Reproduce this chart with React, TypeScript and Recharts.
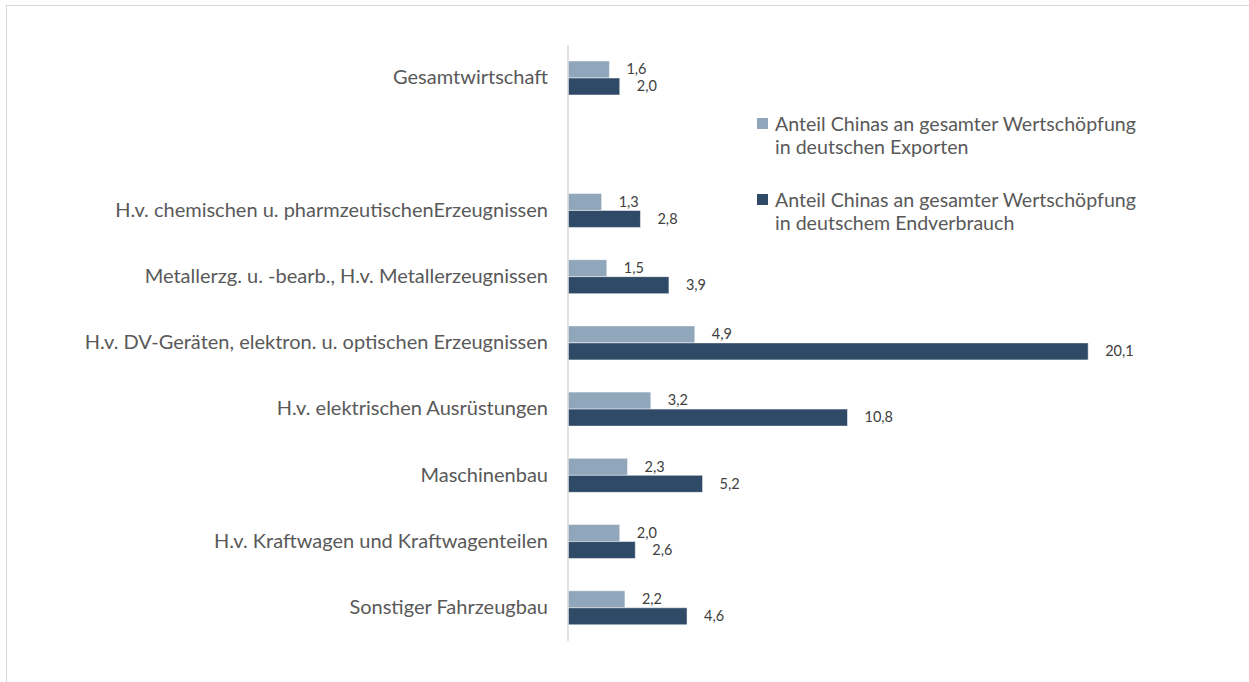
import React from "react";
import { BarChart, Bar, XAxis, YAxis, LabelList } from "recharts";

const categories = [
  "Gesamtwirtschaft",
  "",
  "H.v. chemischen u. pharmzeutischenErzeugnissen",
  "Metallerzg. u. -bearb., H.v. Metallerzeugnissen",
  "H.v. DV-Geräten, elektron. u. optischen Erzeugnissen",
  "H.v. elektrischen Ausrüstungen",
  "Maschinenbau",
  "H.v. Kraftwagen und Kraftwagenteilen",
  "Sonstiger Fahrzeugbau",
];
const exportShare: (number | null)[] = [1.6, null, 1.3, 1.5, 4.9, 3.2, 2.3, 2.0, 2.2];
const consumptionShare: (number | null)[] = [2.0, null, 2.8, 3.9, 20.1, 10.8, 5.2, 2.6, 4.6];
const seriesNames = [
  ["Anteil Chinas an gesamter Wertschöpfung", "in deutschen Exporten"],
  ["Anteil Chinas an gesamter Wertschöpfung", "in deutschem Endverbrauch"],
];

const data = categories.map((name, i) => ({
  name,
  exp: exportShare[i],
  cons: consumptionShare[i],
}));

const LIGHT = "#8FA6BB";
const DARK = "#2E4A66";
const TEXT = "#595959";
const FONT = "Lato, 'Open Sans', sans-serif";

const fmt = (v: number) => v.toFixed(1).replace(".", ",");

const ValueLabel = (props: any) => {
  const { x, y, width, height, value } = props;
  if (value === null || value === undefined) return null;
  return (
    <text
      x={Number(x) + Number(width) + 17}
      y={Number(y) + Number(height) / 2 + 1}
      fill="#404040"
      fontSize={14.5}
      fontFamily={FONT}
      dominantBaseline="middle"
    >
      {fmt(Number(value))}
    </text>
  );
};

const CatTick = (props: any) => {
  const { x, y, payload } = props;
  return (
    <text
      x={Number(x) - 12}
      y={Number(y) + 1}
      textAnchor="end"
      dominantBaseline="middle"
      fill={TEXT}
      fontSize={20}
      fontFamily={FONT}
    >
      {payload.value}
    </text>
  );
};

export default function App() {
  return (
    <div
      style={{
        position: "absolute",
        left: 0,
        top: 0,
        width: 1249,
        height: 682,
        background: "#fff",
        overflow: "hidden",
      }}
    >
      <div
        style={{
          position: "absolute",
          left: 6,
          top: 5,
          width: 1260,
          height: 700,
          border: "1.5px solid #d9d9d9",
        }}
      />
      <div style={{ position: "absolute", left: 0, top: 0 }}>
        <BarChart
          width={1249}
          height={682}
          data={data}
          layout="vertical"
          margin={{ top: 45, right: 34, bottom: 41, left: 0 }}
          barGap={0}
          barSize={17}
        >
          <XAxis type="number" domain={[0, 25]} hide />
          <YAxis
            type="category"
            dataKey="name"
            width={568}
            axisLine={{ stroke: "#d9d9d9", strokeWidth: 1.5 }}
            tickLine={false}
            tick={<CatTick />}
            interval={0}
          />
          <Bar dataKey="exp" fill={LIGHT} stroke="#ffffff" strokeWidth={0.5} isAnimationActive={false}>
            <LabelList dataKey="exp" content={<ValueLabel />} />
          </Bar>
          <Bar dataKey="cons" fill={DARK} stroke="#ffffff" strokeWidth={0.5} isAnimationActive={false}>
            <LabelList dataKey="cons" content={<ValueLabel />} />
          </Bar>
        </BarChart>
      </div>
      {seriesNames.map((lines, i) => (
        <div
          key={i}
          style={{
            position: "absolute",
            left: 757,
            top: i === 0 ? 112 : 188,
            fontFamily: FONT,
            fontSize: 19.6,
            lineHeight: "23px",
            color: TEXT,
          }}
        >
          <div
            style={{
              position: "absolute",
              left: 0,
              top: 6,
              width: 11,
              height: 11,
              background: i === 0 ? LIGHT : DARK,
            }}
          />
          <div style={{ marginLeft: 18, whiteSpace: "nowrap" }}>
            {lines.map((l, j) => (
              <div key={j}>{l}</div>
            ))}
          </div>
        </div>
      ))}
    </div>
  );
}
